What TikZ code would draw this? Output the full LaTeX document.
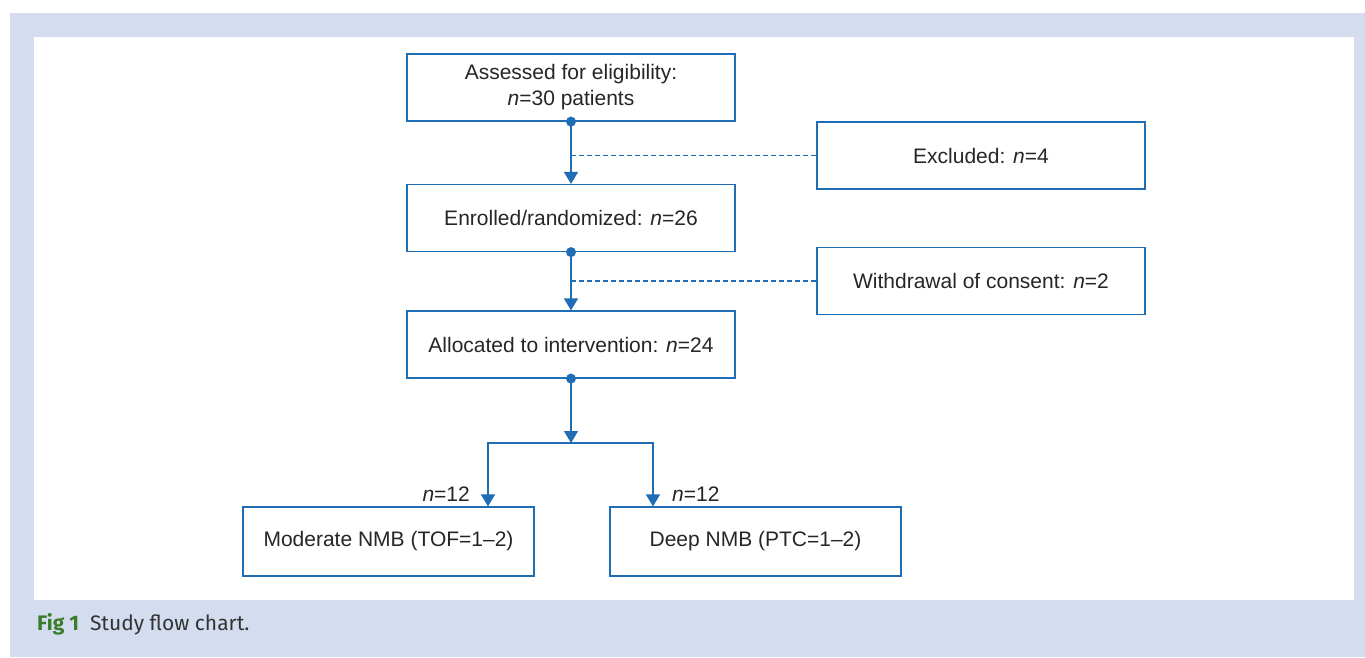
\documentclass[tikz,border=0pt]{standalone}
\usepackage{fontspec}
\setmainfont{Liberation Sans}
\newfontfamily\capfont{Fira Sans}
\usetikzlibrary{arrows.meta, positioning, calc}

\definecolor{flowblue}{HTML}{1F6DB5}
\definecolor{panelblue}{HTML}{D4DDEF}
\definecolor{figgreen}{HTML}{3B7D2A}
\definecolor{captext}{HTML}{333333}

\begin{document}
\begin{tikzpicture}[
        x=1pt, y=-1pt,
        flowbox/.style={rectangle, draw=flowblue, line width=1.2pt, fill=white, align=center, minimum width=328pt, minimum height=67pt, inner sep=0pt, font=\fontsize{21}{26}\selectfont, text=black!85},
        armbox/.style={flowbox, minimum width=291pt, minimum height=69pt},
        flow/.style={draw=flowblue, line width=1.4pt, -{Triangle[length=12pt, width=14pt]}},
        exclude/.style={draw=flowblue, line width=1.3pt, dash pattern=on 5pt off 3pt},
        dot/.style={circle, fill=flowblue, inner sep=0pt, minimum size=10pt},
        count/.style={font=\fontsize{21}{26}\selectfont, text=black!85, inner sep=0pt}
    ]
        % panel and white field
        \fill[panelblue] (10,13) rectangle (1365,657);
        \fill[white] (34,37) rectangle (1354,600);
        \useasboundingbox (0,0) rectangle (1365,657);

        % main column
        \node [flowbox] (assessed) at (571,87.5) {Assessed for eligibility:\\\textit{n}=30 patients};
        \node [flowbox] (enrolled) at (571,218) {Enrolled/randomized: \textit{n}=26};
        \node [flowbox] (allocated) at (571,344.5) {Allocated to intervention: \textit{n}=24};

        % side boxes
        \node [flowbox] (excluded) at (981,155.5) {Excluded: \textit{n}=4};
        \node [flowbox] (withdrawn) at (981,281) {Withdrawal of consent: \textit{n}=2};

        % arms
        \node [armbox] (moderate) at (388.5,541.5) {Moderate NMB (TOF=1--2)};
        \node [armbox] (deep) at (755.5,541.5) {Deep NMB (PTC=1--2)};

        % connectors
        \draw[flow] (assessed.south) -- (enrolled.north);
        \draw[flow] (enrolled.south) -- (allocated.north);
        \draw[exclude] (excluded.west -| assessed.south) -- (excluded.west);
        \draw[exclude] (withdrawn.west -| enrolled.south) -- (withdrawn.west);

        \coordinate (split) at (571,443);
        \coordinate (splitL) at (488,443);
        \coordinate (splitR) at (653,443);
        \draw[flow] (allocated.south) -- (split);
        \draw[flow] (split) -- (splitL) -- (splitL |- moderate.north);
        \draw[flow] (split) -- (splitR) -- (splitR |- deep.north);

        \node [dot] at (assessed.south) {};
        \node [dot] at (enrolled.south) {};
        \node [dot] at (allocated.south) {};

        \node [count, anchor=east] (nmod) at (470,494) {\textit{n}=12};
        \node [count, anchor=west] (ndeep) at (672,494) {\textit{n}=12};

        % caption
        \node [anchor=west, inner sep=0pt, font=\capfont\fontsize{21}{25}\selectfont, text=captext] (caption) at (37,624)
            {\textcolor{figgreen}{\bfseries Fig 1}\hspace{11pt}Study flow chart.};
    \end{tikzpicture}
\end{document}
